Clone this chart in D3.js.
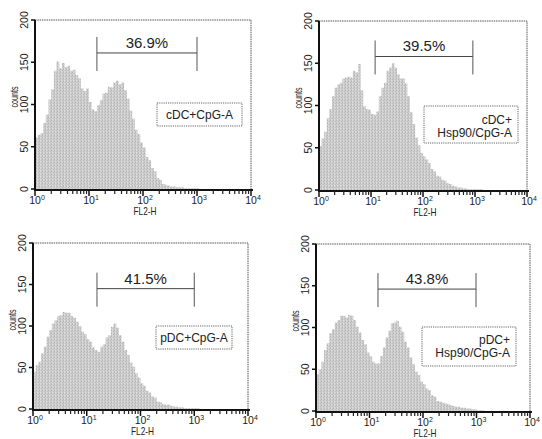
<!DOCTYPE html>
<html><head><meta charset="utf-8">
<script src="https://cdn.jsdelivr.net/npm/d3@7"></script>
<style>
body{margin:0;background:#fff}
svg{display:block}
text{font-family:"Liberation Sans",Arial,Helvetica,sans-serif;fill:#222}
</style>
</head><body>
<svg id="c" width="542" height="439"></svg>
<script>
// ---------------- DATA ----------------
const panelLabels = [["cDC+CpG-A"], ["cDC+", "Hsp90/CpG-A"], ["pDC+CpG-A"], ["pDC+", "Hsp90/CpG-A"]];
const gatePercent = ["36.9%", "39.5%", "41.5%", "43.8%"];
const gateLow  = [14, 12, 15.5, 14.4];
const gateHigh = [1000, 910, 1000, 980];
const yTicks = [0, 50, 100, 150, 200];
const xTickExp = [0, 1, 2, 3, 4];
const xAxisLabel = "FL2-H";
const yAxisLabel = "counts";
const binsPerDecade = 20;

const countsCdc = [61,64,66,78,88,106,118,140,151,143,149,144,146,140,141,135,131,119,116,119,
  103,94,92,99,105,113,114,121,120,126,128,124,126,117,107,93,83,70,65,55,
  49,38,34,25,21,13,11,6,5,4,3,3,2,2,2,1,1,1,1,1,
  1,0,0,0,0,0,0,0,0,0,0,0,0,0,0,0,0,0,0,0];
const countsCdcHsp = [52,61,69,85,96,111,121,125,127,132,133,134,133,141,139,149,118,99,96,95,
  90,89,93,111,121,127,141,145,150,145,137,132,132,126,111,92,78,62,53,44,
  40,36,32,25,22,17,16,12,11,8,7,5,4,3,3,2,2,1,1,1,
  1,1,1,0,0,0,0,0,0,0,0,0,0,0,0,0,0,0,0,0];
const countsPdc = [45,53,57,67,75,87,95,103,107,112,113,117,116,116,112,110,105,100,93,90,
  84,81,74,71,69,75,78,86,89,99,103,98,89,81,71,65,56,51,43,38,
  31,28,22,20,15,14,9,8,6,5,5,4,3,3,2,2,1,1,1,1,
  1,1,0,0,0,0,0,0,0,0,0,0,0,0,0,0,0,0,0,0];
const countsPdcHsp = [44,50,59,73,81,93,98,106,109,114,114,112,115,114,109,101,94,85,80,70,
  66,59,57,57,66,76,88,96,105,106,108,101,95,83,76,64,56,47,43,35,
  32,27,25,19,17,12,11,10,9,8,7,6,5,5,4,4,3,3,2,2,
  1,1,1,0,0,0,0,0,0,0,0,0,0,0,0,0,0,0,0,0];
const allCounts = [countsCdc, countsCdcHsp, countsPdc, countsPdcHsp];

// ---------------- LAYOUT ----------------
const layout = [
  {x0:35,  x1:251, yTop:20,  yBase:189, gateY:161, box:[157,103,242,126], tx:199.5, lines:[119], anchor:"middle"},
  {x0:319, x1:527, yTop:21,  yBase:190, gateY:158, box:[424,106,518,143], tx:512,   lines:[124,137], anchor:"end"},
  {x0:33,  x1:248, yTop:243, yBase:409, gateY:145, box:[156,326,232,349], tx:194,   lines:[342], anchor:"middle"},
  {x0:316, x1:530, yTop:244, yBase:411, gateY:146, box:[422,327,516,366], tx:510,   lines:[344,357], anchor:"end"}
];

const svg = d3.select("#c");
const defs = svg.append("defs");
const pat = defs.append("pattern").attr("id","stip").attr("width",3).attr("height",3)
  .attr("patternUnits","userSpaceOnUse");
pat.append("rect").attr("width",3).attr("height",3).attr("fill","#cdcdcd");
[[0,0,"#b2b2b2"],[2,1,"#bdbdbd"],[1,2,"#dedede"],[1,0,"#d8d8d8"],[0,2,"#c2c2c2"]].forEach(d=>{
  pat.append("rect").attr("x",d[0]).attr("y",d[1]).attr("width",1).attr("height",1).attr("fill",d[2]);
});

layout.forEach((L, p) => {
  const g = svg.append("g");
  const x = d3.scaleLog().domain([1, 1e4]).range([L.x0, L.x1]);
  const y = d3.scaleLinear().domain([0, 200]).range([L.yBase, L.yTop]);
  const vals = allCounts[p];
  const pts = vals.map((v, i) => ({e: Math.pow(10, i / binsPerDecade), v}));
  pts.push({e: 1e4, v: 0});

  // histogram
  const area = d3.area().x(d => x(d.e)).y0(y(0)).y1(d => y(d.v)).curve(d3.curveStepAfter);
  g.append("path").datum(pts).attr("d", area).attr("fill", "url(#stip)");

  // box top/right
  g.append("path").attr("d", `M${L.x0},${L.yTop}H${L.x1}V${L.yBase}`)
    .attr("fill","none").attr("stroke","#555").attr("stroke-width",1).attr("stroke-dasharray","1.5,0.8");

  // x axis
  const minor = [];
  for (let d = 0; d < 4; d++) for (let k = 2; k <= 9; k++) minor.push(k * Math.pow(10, d));
  g.append("line").attr("x1", L.x0).attr("x2", L.x1 + 2).attr("y1", L.yBase + 1).attr("y2", L.yBase + 1)
    .attr("stroke", "#111").attr("stroke-width", 2);
  g.selectAll(".mn").data(minor).enter().append("line")
    .attr("x1", d => x(d)).attr("x2", d => x(d)).attr("y1", L.yBase + 1).attr("y2", L.yBase + 5)
    .attr("stroke", "#222").attr("stroke-width", 1.2);
  g.selectAll(".mj").data(xTickExp).enter().append("line")
    .attr("x1", d => x(Math.pow(10, d))).attr("x2", d => x(Math.pow(10, d)))
    .attr("y1", L.yBase + 1).attr("y2", L.yBase + 7)
    .attr("stroke", "#111").attr("stroke-width", 1.5);
  const xl = g.selectAll(".xl").data(xTickExp).enter().append("text")
    .attr("x", d => x(Math.pow(10, d)) + 2).attr("y", L.yBase + 15)
    .attr("text-anchor", "middle").attr("font-size", 10.5);
  xl.append("tspan").text("10");
  xl.append("tspan").attr("dy", -4).attr("font-size", 7).text(d => d);
  g.append("text").attr("x", x(100) + 2).attr("y", L.yBase + 26).attr("text-anchor","middle")
    .attr("font-size", 10.5).attr("textLength", 23).attr("lengthAdjust","spacingAndGlyphs").text(xAxisLabel);

  // y axis
  g.append("line").attr("x1", L.x0).attr("x2", L.x0).attr("y1", L.yTop).attr("y2", L.yBase + 2)
    .attr("stroke", "#111").attr("stroke-width", 2);
  g.selectAll(".yt").data(yTicks).enter().append("line")
    .attr("x1", L.x0 - 4).attr("x2", L.x0).attr("y1", d => y(d)).attr("y2", d => y(d))
    .attr("stroke", "#111").attr("stroke-width", 1.5);
  g.selectAll(".yl").data(yTicks).enter().append("text")
    .attr("transform", d => `translate(${L.x0 - 11},${y(d)}) rotate(-90)`)
    .attr("text-anchor", "middle").attr("dominant-baseline", "central")
    .attr("font-size", 10.5).text(d => d);
  g.append("text").attr("transform", `translate(${L.x0 - 21},${L.yTop + 77}) rotate(-90)`)
    .attr("text-anchor", "middle").attr("dominant-baseline", "central")
    .attr("font-size", 10).attr("textLength", 21).attr("lengthAdjust","spacingAndGlyphs").text(yAxisLabel);

  // gate marker
  const gl = x(gateLow[p]), gh = x(gateHigh[p]), gy = y(L.gateY);
  g.append("line").attr("x1", gl).attr("x2", gh).attr("y1", gy).attr("y2", gy)
    .attr("stroke", "#444").attr("stroke-width", 1);
  [gl, gh].forEach(xx => g.append("line").attr("x1", xx).attr("x2", xx).attr("y1", gy - 16).attr("y2", gy + 18)
    .attr("stroke", "#555").attr("stroke-width", 1));
  g.append("text").attr("x", (gl + gh) / 2).attr("y", gy - 5).attr("text-anchor","middle")
    .attr("font-size", 15).text(gatePercent[p]);

  // label box
  const b = L.box;
  g.append("rect").attr("x", b[0]).attr("y", b[1]).attr("width", b[2] - b[0]).attr("height", b[3] - b[1])
    .attr("fill", "none").attr("stroke", "#666").attr("stroke-width", 1).attr("stroke-dasharray", "1.2,1");
  panelLabels[p].forEach((t, i) => {
    g.append("text").attr("x", L.tx).attr("y", L.lines[i]).attr("text-anchor", L.anchor)
      .attr("font-size", 12).text(t);
  });
});
</script>
</body></html>
